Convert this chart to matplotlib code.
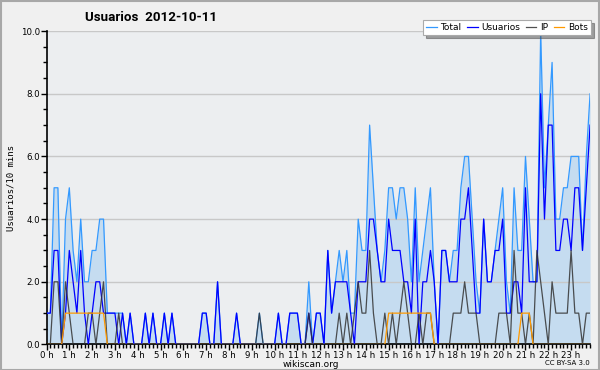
import numpy as np
import matplotlib
matplotlib.use('Agg')
import matplotlib.pyplot as plt
from matplotlib.ticker import MultipleLocator, FixedLocator, FixedFormatter

# valores cada 10 minutos (6 por hora)
total = [
    1, 1, 5, 5, 0, 4,   5, 3, 2, 4, 2, 2,   3, 3, 4, 4, 1, 1,   1, 1, 1, 0, 1, 0,
    0, 0, 1, 0, 1, 0,   0, 1, 0, 1, 0, 0,   0, 0, 0, 0, 0, 1,   1, 0, 0, 2, 0, 0,
    0, 0, 1, 0, 0, 0,   0, 0, 1, 0, 0, 0,   0, 1, 0, 0, 1, 1,   1, 0, 0, 2, 0, 1,
    1, 0, 3, 1, 2, 3,   2, 3, 1, 1, 4, 3,   3, 7, 5, 3, 2, 3,   5, 5, 4, 5, 5, 4,
    2, 5, 2, 3, 4, 5,   2, 0, 3, 3, 2, 3,   3, 5, 6, 6, 4, 2,   1, 4, 2, 2, 3, 4,
    5, 2, 1, 5, 3, 3,   6, 4, 2, 2, 10, 5,  7, 9, 4, 4, 5, 5,   6, 6, 6, 3, 6, 8,
]
usuarios = [
    1, 1, 3, 3, 0, 1,   3, 2, 1, 3, 1, 0,   1, 2, 2, 1, 1, 1,   1, 0, 1, 0, 1, 0,
    0, 0, 1, 0, 1, 0,   0, 1, 0, 1, 0, 0,   0, 0, 0, 0, 0, 1,   1, 0, 0, 2, 0, 0,
    0, 0, 1, 0, 0, 0,   0, 0, 0, 0, 0, 0,   0, 1, 0, 0, 1, 1,   1, 0, 0, 1, 0, 1,
    1, 0, 3, 1, 2, 2,   2, 2, 1, 0, 2, 2,   2, 4, 4, 3, 2, 2,   4, 3, 3, 3, 2, 2,
    1, 4, 0, 2, 2, 3,   2, 0, 3, 3, 2, 2,   2, 4, 4, 5, 3, 1,   1, 4, 2, 2, 3, 3,
    4, 1, 1, 2, 2, 1,   5, 2, 2, 2, 8, 4,   7, 7, 3, 3, 4, 4,   3, 5, 5, 3, 5, 7,
]
ip = [
    0, 0, 2, 2, 0, 2,   1, 0, 0, 0, 0, 1,   1, 0, 1, 2, 0, 0,   0, 1, 0, 0, 0, 0,
    0, 0, 0, 0, 0, 0,   0, 0, 0, 0, 0, 0,   0, 0, 0, 0, 0, 0,   0, 0, 0, 0, 0, 0,
    0, 0, 0, 0, 0, 0,   0, 0, 1, 0, 0, 0,   0, 0, 0, 0, 0, 0,   0, 0, 0, 1, 0, 0,
    0, 0, 0, 0, 0, 1,   0, 1, 0, 1, 2, 1,   1, 3, 1, 0, 0, 1,   0, 1, 0, 1, 2, 1,
    0, 0, 1, 0, 1, 1,   0, 0, 0, 0, 0, 1,   1, 1, 2, 1, 1, 1,   0, 0, 0, 0, 0, 1,
    1, 1, 0, 3, 1, 1,   0, 1, 0, 3, 2, 1,   0, 2, 1, 1, 1, 1,   3, 1, 1, 0, 1, 1,
]
bots = [
    0, 0, 0, 0, 0, 1,   1, 1, 1, 1, 1, 1,   1, 1, 1, 1, 0, 0,   0, 0, 0, 0, 0, 0,
    0, 0, 0, 0, 0, 0,   0, 0, 0, 0, 0, 0,   0, 0, 0, 0, 0, 0,   0, 0, 0, 0, 0, 0,
    0, 0, 0, 0, 0, 0,   0, 0, 0, 0, 0, 0,   0, 0, 0, 0, 0, 0,   0, 0, 0, 0, 0, 0,
    0, 0, 0, 0, 0, 0,   0, 0, 0, 0, 0, 0,   0, 0, 0, 0, 0, 0,   1, 1, 1, 1, 1, 1,
    1, 1, 1, 1, 1, 1,   0, 0, 0, 0, 0, 0,   0, 0, 0, 0, 0, 0,   0, 0, 0, 0, 0, 0,
    0, 0, 0, 0, 0, 1,   1, 1, 0, 0, 0, 0,   0, 0, 0, 0, 0, 0,   0, 0, 0, 0, 0, 0,
]
horas = [f"{h} h" for h in range(24)]

x = np.arange(len(total))

fig = plt.figure(figsize=(6, 3.7), dpi=100, facecolor='#f0f0f0')
fig.patches.append(plt.Rectangle((0.001, 0.001), 0.998, 0.997, transform=fig.transFigure,
                                 fill=False, edgecolor='#a8a8a8', linewidth=1.5))
ax = fig.add_axes([0.0775, 0.069, 0.906, 0.847])
ax.set_facecolor('#eceef0')

ax.fill_between(x, total, 0, color='#c5dcf0', linewidth=0, zorder=1)
ax.plot(x, total, color='#3399ff', lw=0.9, label='Total', zorder=3)
ax.plot(x, usuarios, color='#0000ff', lw=0.9, label='Usuarios', zorder=4)
ax.plot(x, ip, color='#333333', lw=0.9, alpha=0.85, label='IP', zorder=5)
ax.plot(x, bots, color='#ff9900', lw=0.9, label='Bots', zorder=6)

ax.set_xlim(0, len(total) - 1)
ax.set_ylim(0, 10)

for s in ['top', 'right']:
    ax.spines[s].set_visible(False)
ax.spines['left'].set_linewidth(1.2)
ax.spines['bottom'].set_linewidth(1.2)

ax.yaxis.set_major_locator(MultipleLocator(2))
ax.yaxis.set_minor_locator(MultipleLocator(0.5))
ax.yaxis.set_major_formatter(plt.FuncFormatter(lambda v, p: f"{v:.1f}"))
ax.xaxis.set_major_locator(FixedLocator(np.arange(0, len(total), 6)))
ax.xaxis.set_major_formatter(FixedFormatter(horas))
ax.xaxis.set_minor_locator(MultipleLocator(1))
ax.tick_params(axis='both', which='major', length=4, width=1, labelsize=6.2, pad=0.8)
ax.tick_params(axis='both', which='minor', length=3, width=1)
ax.set_axisbelow('line')
ax.grid(axis='y', which='major', color='#c8c8c8', linewidth=1)

ax.set_ylabel('Usuarios/10 mins', fontsize=6.5, family='DejaVu Sans Mono', labelpad=4)

fig.text(0.142, 0.952, 'Usuarios  2012-10-11', fontsize=9.6, fontweight='bold', va='center',
         family=['Roboto', 'DejaVu Sans'])
fig.text(0.518, 0.016, 'wikiscan.org', fontsize=6.5, ha='center', va='center')
fig.text(0.983, 0.019, 'CC BY-SA 3.0', fontsize=5, ha='right', va='center')

leg = fig.legend(loc='upper right', bbox_to_anchor=(0.985, 0.946), ncol=4, fontsize=6.5,
                 frameon=True, fancybox=False, shadow=True, handlelength=1.2,
                 handletextpad=0.4, columnspacing=0.6, borderpad=0.35, borderaxespad=0)
leg.get_frame().set_edgecolor('#aaaaaa')
leg.get_frame().set_linewidth(0.8)

fig.savefig('out.png', dpi=100, facecolor=fig.get_facecolor())
